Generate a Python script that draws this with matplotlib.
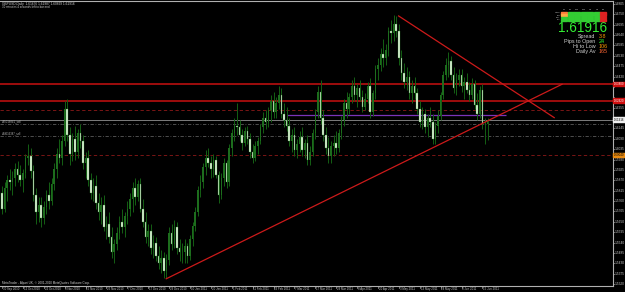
import numpy as np
import matplotlib
matplotlib.use("Agg")
import matplotlib.pyplot as plt
from matplotlib.patches import Rectangle

# ---------------- data (prices in 1/10000) ----------------
open_p = [15800,15720,15830,15870,15860,15880,15930,15900,15870,15910,
          15990,16000,15920,15790,15700,15740,15670,15730,15790,15760,
          15850,15930,16010,15990,16080,16250,16110,16010,16090,16020,
          16120,16080,15960,15990,15870,15800,15840,15750,15700,15740,
          15620,15640,15570,15490,15530,15590,15650,15620,15680,15720,
          15770,15830,15780,15850,15720,15650,15570,15600,15510,15540,
          15470,15430,15460,15390,15450,15590,15530,15620,15510,15490,
          15490,15520,15470,15560,15630,15700,15820,15860,15940,15990,
          15960,15930,15980,15900,15790,15880,15960,15860,16040,16120,
          16160,16150,16110,16070,16130,16090,16020,15990,16050,16080,
          16150,16200,16180,16240,16290,16230,16280,16320,16220,16190,
          16160,16080,16110,16030,16060,16100,16030,16070,15980,16020,
          16120,16230,16340,16200,16110,16040,16000,16050,16070,16040,
          16120,16190,16280,16250,16310,16370,16320,16360,16310,16260,
          16300,16370,16230,16330,16460,16480,16540,16520,16560,16660,
          16650,16700,16660,16520,16440,16390,16420,16330,16370,16330,
          16250,16180,16220,16150,16200,16180,16090,16160,16210,16320,
          16430,16480,16500,16430,16360,16400,16430,16370,16390,16350,
          16320,16380,16270,16220,16350,16170,16167.6]
high_p = [15840,15860,15900,15930,15920,15960,15970,15950,15930,16010,
          16060,16040,15950,15830,15780,15780,15760,15820,15860,15880,
          15960,16040,16090,16110,16290,16300,16150,16120,16160,16140,
          16170,16110,16020,16030,15910,15880,15900,15800,15780,15790,
          15680,15700,15620,15560,15620,15680,15720,15700,15760,15800,
          15860,15880,15870,15880,15770,15700,15640,15640,15580,15570,
          15520,15500,15490,15480,15620,15640,15660,15650,15560,15540,
          15560,15540,15580,15650,15730,15840,15900,15960,16030,16040,
          16000,16010,16000,15920,15910,15990,15980,16060,16140,16200,
          16280,16190,16140,16150,16160,16120,16060,16080,16100,16170,
          16230,16240,16260,16320,16340,16310,16370,16360,16280,16260,
          16200,16140,16150,16090,16130,16150,16090,16110,16050,16140,
          16250,16370,16400,16240,16150,16100,16080,16110,16130,16140,
          16210,16300,16340,16330,16400,16420,16380,16400,16350,16330,
          16390,16410,16350,16480,16520,16570,16620,16590,16680,16720,
          16746,16740,16700,16560,16490,16470,16450,16400,16420,16360,
          16290,16260,16250,16220,16260,16220,16180,16240,16340,16450,
          16520,16550,16530,16470,16440,16460,16460,16420,16440,16390,
          16410,16400,16330,16370,16380,16200,16198.7]
low_p = [15690,15700,15760,15820,15790,15840,15860,15840,15810,15880,
         15950,15880,15760,15640,15650,15620,15640,15690,15720,15740,
         15820,15880,15960,15950,16050,16080,15950,15970,15980,15990,
         16040,15930,15880,15840,15770,15760,15720,15660,15640,15600,
         15560,15540,15460,15430,15500,15560,15590,15570,15640,15680,
         15700,15740,15760,15700,15620,15540,15520,15480,15460,15440,
         15400,15380,15350,15350,15420,15500,15510,15480,15440,15430,
         15430,15430,15450,15520,15600,15680,15780,15830,15900,15940,
         15880,15890,15880,15750,15770,15840,15830,15840,16000,16080,
         16110,16080,16030,16050,16060,15990,15960,15970,16010,16060,
         16120,16140,16150,16180,16200,16200,16250,16200,16150,16130,
         16050,16020,16000,15990,16020,16000,15990,15950,15950,16000,
         16090,16200,16170,16080,16010,15960,15960,16000,16010,16020,
         16090,16160,16200,16220,16280,16290,16260,16290,16230,16240,
         16280,16200,16210,16300,16400,16450,16470,16480,16530,16600,
         16610,16630,16480,16400,16360,16350,16300,16280,16300,16220,
         16150,16140,16120,16100,16150,16060,16060,16120,16190,16300,
         16400,16420,16400,16330,16320,16370,16340,16300,16330,16290,
         16300,16250,16190,16200,16140,16060,16082.9]
close_p = [15720,15830,15870,15860,15880,15930,15900,15870,15910,15990,
           16000,15920,15790,15700,15740,15670,15730,15790,15760,15850,
           15930,16010,15990,16080,16250,16110,16010,16090,16020,16120,
           16080,15960,15990,15870,15800,15840,15750,15700,15740,15620,
           15640,15570,15490,15530,15590,15650,15620,15680,15720,15770,
           15830,15780,15850,15720,15650,15570,15600,15510,15540,15470,
           15430,15460,15390,15450,15590,15530,15620,15510,15490,15490,
           15520,15470,15560,15630,15700,15820,15860,15940,15990,15960,
           15930,15980,15900,15790,15880,15960,15860,16040,16120,16160,
           16150,16110,16070,16130,16090,16020,15990,16050,16080,16150,
           16200,16180,16240,16290,16230,16280,16320,16220,16190,16160,
           16080,16110,16030,16060,16100,16030,16070,15980,16020,16120,
           16230,16340,16200,16110,16040,16000,16050,16070,16040,16120,
           16190,16280,16250,16310,16370,16320,16360,16310,16260,16300,
           16370,16230,16330,16460,16480,16540,16520,16560,16660,16650,
           16700,16660,16520,16440,16390,16420,16330,16370,16330,16250,
           16180,16220,16150,16200,16180,16090,16160,16210,16320,16430,
           16480,16500,16430,16360,16400,16430,16370,16390,16350,16320,
           16380,16270,16220,16350,16170,16167.6,16191.6]

date_labels = ["30 Sep 2010", "12 Oct 2010", "22 Oct 2010", "3 Nov 2010", "15 Nov 2010",
               "25 Nov 2010", "7 Dec 2010", "17 Dec 2010", "29 Dec 2010", "10 Jan 2011",
               "20 Jan 2011", "1 Feb 2011", "11 Feb 2011", "23 Feb 2011", "7 Mar 2011",
               "17 Mar 2011", "29 Mar 2011", "8 Apr 2011", "20 Apr 2011", "3 May 2011",
               "13 May 2011", "24 May 2011", "3 Jun 2011", "15 Jun 2011"]
date_label_bars = [0, 8, 16, 24, 32, 40, 48, 56, 64, 72, 80, 88, 96, 104, 112,
                   120, 128, 136, 144, 152, 160, 168, 176, 184]

price_ticks = [1.6805, 1.6750, 1.6695, 1.6640, 1.6585, 1.6530, 1.6475, 1.6420, 1.6365,
               1.6310, 1.6255, 1.6200, 1.6145, 1.6090, 1.6035, 1.5980, 1.5925, 1.5870,
               1.5815, 1.5760, 1.5705, 1.5650, 1.5595, 1.5540, 1.5485, 1.5430, 1.5375,
               1.5320]

hlines_red = [1.6380, 1.6292]
hline_reddash = [1.6241, 1.6004]
bid_price = 1.61916
order_lines = [1.6168, 1.6105]
order_names = ["#25016841_sell", "#24616387_sell"]
purple_line = (109, 193, 1.6214)
uptrend = ((62.9, 1.5348), (214.5, 1.6379))
downtrend = ((151.9, 1.6741), (211.5, 1.6202))

header = "GBPUSD,Daily  1.61676 1.61987 1.60829 1.61916"
subheader = "30 minutes 4 seconds left to bar end"
footer = "MetaTrader - Alpari UK, \u00a9 2001-2010 MetaQuotes Software Corp."

panel_price = "1.61916"
panel_labels = ["Spread", "Pips to Open", "Hi to Low", "Daily Av"]
panel_values = ["3.8", "24", "106", "165"]
panel_value_colors = ["#ff9900", "#33ff33", "#ff9900", "#ff6633"]
tf_names = ["M1", "M5", "M15", "M30", "H1", "H4", "D1"]
row_names = ["MACD", "STR", "EMA", "CCI"]
grid_colors = [
    ["#ff7b3b", "#33cc33", "#33cc33", "#33cc33", "#33cc33", "#33cc33", "#dd2222"],
    ["#ffaa44", "#33cc33", "#33cc33", "#33cc33", "#33cc33", "#33cc33", "#dd2222"],
    ["#33cc33", "#33cc33", "#33cc33", "#33cc33", "#33cc33", "#33cc33", "#dd2222"],
    ["#33cc33", "#33cc33", "#33cc33", "#33cc33", "#33cc33", "#33cc33", "#dd2222"],
]

# ---------------- layout ----------------
W, H = 625, 292
PLOT_R = 612.6
PLOT_T, PLOT_B = 1.0, 285.7
X0, DX = 2.0, 2.611          # px of bar 0, px per bar
Y_REF, P_REF, K = 15.0, 1.6746, 0.00053   # px, price, price per px

def py(p):
    return Y_REF + (P_REF - p) / K

def px(i):
    return X0 + DX * i

o = np.array(open_p) / 10000
h = np.array(high_p) / 10000
l = np.array(low_p) / 10000
c = np.array(close_p) / 10000
idx = np.arange(len(c))

fig = plt.figure(figsize=(W / 100, H / 100), dpi=100, facecolor="black")
ax = fig.add_axes([0, (H - PLOT_B) / H, PLOT_R / W, (PLOT_B - PLOT_T) / H])
ax.set_facecolor("black")
ax.set_xlim((0 - X0) / DX, (PLOT_R - X0) / DX)
ax.set_ylim(P_REF - (PLOT_B - Y_REF) * K, P_REF + (Y_REF - PLOT_T) * K)
ax.set_xticks([]); ax.set_yticks([])
ax.spines["left"].set_visible(False)
for s in ["right", "bottom", "top"]:
    ax.spines[s].set_color("#b0b0b0")
    ax.spines[s].set_linewidth(0.8)

# horizontal levels
for p in hlines_red:
    ax.axhline(p, color="#c81010", lw=1.1, zorder=1)
for p in hline_reddash:
    ax.axhline(p, color="#8c1818", lw=0.6, ls=(0, (4, 3)), zorder=1)
ax.axhline(bid_price, color="#909090", lw=0.6, zorder=1)
for p in order_lines:
    ax.axhline(p, color="#5a5a5a", lw=0.6, ls=(0, (4, 2, 1, 2)), zorder=1)
ax.hlines(purple_line[2], purple_line[0], purple_line[1], color="#7a34b8", lw=0.9, zorder=2)

# candles
bull = c >= o
ax.vlines(idx, l, h, color="#145f14", lw=0.7, zorder=3)
body_bot = np.minimum(o, c)
body_h = np.maximum(np.abs(c - o), 0.00012)
ax.bar(idx[bull], body_h[bull], bottom=body_bot[bull], width=0.6,
       color="#1d6d1d", linewidth=0, zorder=4)
ax.bar(idx[~bull], body_h[~bull], bottom=body_bot[~bull], width=0.6,
       color="#e4f8dc", edgecolor="#2a7a2a", linewidth=0.25, zorder=4)

# trend lines
for (a, b) in [uptrend, downtrend]:
    ax.plot([a[0], b[0]], [a[1], b[1]], color="#cc1a1a", lw=0.9, zorder=5)

# ---------------- overlay in pixel coords ----------------
ov = fig.add_axes([0, 0, 1, 1], facecolor="none")
ov.set_xlim(0, W); ov.set_ylim(H, 0); ov.axis("off")

FONT = "Liberation Sans"
tag_prices = [hlines_red[0], hlines_red[1], bid_price, hline_reddash[1]]
# price axis
for p in price_ticks:
    y = py(p)
    if PLOT_T < y < PLOT_B + 1:
        ov.plot([PLOT_R, PLOT_R + 1.5], [y, y], color="#b0b0b0", lw=0.5)
        if min(abs(y - py(tp)) for tp in tag_prices) < 4.5:
            continue
        ov.text(PLOT_R + 2.0, y, f"{p:.4f}", color="#c8c8c8", fontsize=2.3,
                va="center", ha="left", family=FONT)

def tag(p, bg, fg):
    y = py(p)
    ov.add_patch(Rectangle((PLOT_R + 0.5, y - 2.4), W - PLOT_R, 4.8, color=bg, zorder=6))
    ov.text(PLOT_R + 1.2, y, f"{p:.5f}", color=fg, fontsize=2.1, va="center",
            ha="left", family=FONT, zorder=7)

tag(hlines_red[0], "#d01010", "white")
tag(hlines_red[1], "#d01010", "white")
tag(bid_price, "#f0f0f0", "black")
tag(hline_reddash[1], "#e88a10", "black")

# date axis
for b, lab in zip(date_label_bars, date_labels):
    x = px(b)
    ov.plot([x, x], [PLOT_B, PLOT_B + 1.8], color="#b0b0b0", lw=0.5)
    ov.text(x + 0.8, PLOT_B + 3.0, lab, color="#c8c8c8", fontsize=2.1, va="center",
            ha="left", family=FONT)

# texts
ov.text(2, 3.6, header, color="#d0d0d0", fontsize=2.3, va="center", ha="left", family=FONT)
ov.text(2, 7.0, subheader, color="#d0d0d0", fontsize=2.1, va="center", ha="left", family=FONT)
ov.text(2, 283.0, footer, color="#d0d0d0", fontsize=2.2, va="center", ha="left", family=FONT)
for p, name in zip(order_lines, order_names):
    ov.text(2, py(p) - 2.2, name, color="#b0b0b0", fontsize=2.0, va="center", ha="left", family=FONT)

# info panel
gx0, gw, gy0, gh = 561.0, 6.5, 11.6, 2.3
for j, tf in enumerate(tf_names):
    ov.text(gx0 + j * gw + gw / 2, 9.3, tf, color="#c0c0c0", fontsize=1.5, ha="center",
            va="center", family=FONT)
for r, rn in enumerate(row_names):
    ov.text(gx0 - 0.8, gy0 + r * gh + gh / 2, rn, color="#c0c0c0", fontsize=1.4, ha="right",
            va="center", family=FONT)
    for j in range(len(tf_names)):
        ov.add_patch(Rectangle((gx0 + j * gw + 0.4, gy0 + r * gh + 0.3), gw - 0.8, gh - 0.6,
                               color=grid_colors[r][j], zorder=6))
ov.text(607, 27.5, panel_price, color="#33ee33", fontsize=9.8, ha="right", va="center",
        family=FONT)
for r, (lab, val, vc) in enumerate(zip(panel_labels, panel_values, panel_value_colors)):
    y = 36.3 + r * 5.1
    ov.text(595.5, y, lab, color="#d0d0d0", fontsize=3.9, ha="right", va="center", family=FONT)
    ov.text(598.5, y, val, color=vc, fontsize=3.9, ha="left", va="center", family=FONT)

fig.savefig("out.png", dpi=100, facecolor="black")
